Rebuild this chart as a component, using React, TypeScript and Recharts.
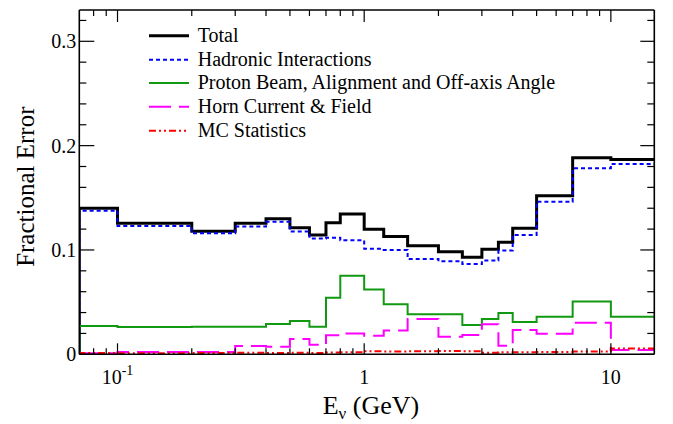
import React from 'react';
import { LineChart, Line, XAxis, YAxis } from 'recharts';

// ---------- data ----------
const binEdges = [0.07, 0.1, 0.2, 0.3, 0.4, 0.5, 0.6, 0.7, 0.8, 1.0, 1.2, 1.5, 2.0, 2.5, 3.0, 3.5, 4.0, 5.0, 7.0, 10, 15];

const totalErr = [0.140, 0.1256, 0.118, 0.1256, 0.130, 0.1214, 0.1144, 0.126, 0.1345, 0.1198, 0.1128, 0.104, 0.0984, 0.093, 0.1007, 0.1074, 0.1208, 0.152, 0.1885, 0.1866];
const hadronicErr = [0.1377, 0.123, 0.116, 0.1224, 0.127, 0.1176, 0.111, 0.1118, 0.1093, 0.1012, 0.100, 0.0914, 0.0892, 0.0866, 0.0898, 0.0994, 0.1144, 0.1463, 0.1783, 0.1825];
const protonErr = [0.0271, 0.0262, 0.0265, 0.0265, 0.029, 0.0319, 0.0265, 0.0543, 0.0752, 0.0621, 0.048, 0.0383, 0.0383, 0.0281, 0.0338, 0.0396, 0.031, 0.036, 0.0505, 0.036];
const hornErr = [0.001, 0.0022, 0.0022, 0.008, 0.0073, 0.0147, 0.0092, 0.0183, 0.020, 0.0178, 0.0227, 0.0338, 0.0169, 0.0185, 0.0288, 0.0083, 0.0233, 0.0198, 0.0303, 0.0041];
const mcStatErr = [0.0012, 0.0010, 0.0012, 0.0015, 0.0012, 0.0015, 0.0012, 0.0018, 0.0020, 0.0030, 0.0028, 0.0030, 0.0032, 0.0030, 0.0015, 0.0020, 0.0020, 0.0022, 0.0028, 0.0055];

const xTicks = [0.08, 0.09, 0.1, 0.2, 0.3, 0.4, 0.5, 0.6, 0.7, 0.8, 0.9, 1, 2, 3, 4, 5, 6, 7, 8, 9, 10];
const xMajorTicks = [0.1, 1, 10];
const xTickBase = ['10', '1', '10'];
const xTickSup = ['-1', '', ''];

const yTicks = [0, 0.02, 0.04, 0.06, 0.08, 0.1, 0.12, 0.14, 0.16, 0.18, 0.2, 0.22, 0.24, 0.26, 0.28, 0.3, 0.32];
const yMajorTicks = [0, 0.1, 0.2, 0.3];
const yTickLabels = ['0', '0.1', '0.2', '0.3'];

const seriesNames = ['Total', 'Hadronic Interactions', 'Proton Beam, Alignment and Off-axis Angle', 'Horn Current & Field', 'MC Statistics'];

// ---------- table ----------
const nBins = totalErr.length;
const rowAt = (x: number, i: number) => ({
  x,
  total: totalErr[i],
  hadronic: hadronicErr[i],
  proton: protonErr[i],
  horn: hornErr[i],
  mc: mcStatErr[i],
});
const data = [
  { x: binEdges[0], total: 0, hadronic: 0, proton: 0, horn: 0, mc: 0 },
  ...binEdges.map((e, i) => rowAt(e, Math.min(i, nBins - 1))),
];

// ---------- styles ----------
const FONT = '"Liberation Serif", "Times New Roman", serif';
const W = 665;
const H = 416;

const seriesStyle = [
  { key: 'total', color: '#000000', width: 3, dash: undefined as string | undefined },
  { key: 'hadronic', color: '#0000ff', width: 2, dash: '4 3' },
  { key: 'proton', color: '#119911', width: 2, dash: undefined },
  { key: 'horn', color: '#ff00ff', width: 2, dash: '22 8' },
  { key: 'mc', color: '#ff0000', width: 2, dash: '7 3 2 3 2 3' },
];

const near = (a: number, b: number) => Math.abs(a - b) < 1e-9;
const majorIndex = (v: number, arr: number[]) => arr.findIndex((m) => near(m, v));

const BottomTick = (props: any) => {
  const { x, y, payload } = props;
  const idx = majorIndex(payload.value, xMajorTicks);
  const major = idx >= 0;
  return (
    <g>
      <line x1={x} x2={x} y1={y} y2={y - (major ? 11 : 6)} stroke="#000" strokeWidth={1.2} />
      {major && (
        <text x={x} y={y + 30} textAnchor="middle" fontFamily={FONT} fontSize={20} fill="#000">
          {xTickBase[idx]}
          {xTickSup[idx] ? (
            <tspan dy={-9} fontSize={14}>
              {xTickSup[idx]}
            </tspan>
          ) : null}
        </text>
      )}
    </g>
  );
};

const TopTick = (props: any) => {
  const { x, y, payload } = props;
  const major = majorIndex(payload.value, xMajorTicks) >= 0;
  return <line x1={x} x2={x} y1={y} y2={y + (major ? 12 : 6)} stroke="#000" strokeWidth={1.2} />;
};

const LeftTick = (props: any) => {
  const { x, y, payload } = props;
  const idx = majorIndex(payload.value, yMajorTicks);
  const major = idx >= 0;
  return (
    <g>
      <line x1={x} x2={x + (major ? 15 : 7)} y1={y} y2={y} stroke="#000" strokeWidth={1.2} />
      {major && (
        <text x={x - 3} y={y + 7} textAnchor="end" fontFamily={FONT} fontSize={20} fill="#000">
          {yTickLabels[idx]}
        </text>
      )}
    </g>
  );
};

const RightTick = (props: any) => {
  const { x, y, payload } = props;
  const major = majorIndex(payload.value, yMajorTicks) >= 0;
  return <line x1={x} x2={x - (major ? 14 : 7)} y1={y} y2={y} stroke="#000" strokeWidth={1.2} />;
};

const legendBaselines = [33.7, 57.7, 81, 104.7, 128.7];

export default function App() {
  return (
    <div style={{ position: 'relative', width: W, height: H }}>
      <LineChart width={W} height={H} data={data} margin={{ top: 1, right: 17.7, bottom: 39.7, left: 0 }}>
        <XAxis
          dataKey="x"
          type="number"
          scale="log"
          domain={[0.07, 15]}
          allowDataOverflow
          ticks={xTicks}
          interval={0}
          tickSize={0}
          tickMargin={0}
          tickLine={false}
          tick={<BottomTick />}
          height={30}
          axisLine={{ stroke: '#000', strokeWidth: 1.6 }}
        />
        <XAxis
          xAxisId="top"
          orientation="top"
          dataKey="x"
          type="number"
          scale="log"
          domain={[0.07, 15]}
          allowDataOverflow
          ticks={xTicks}
          interval={0}
          tickSize={0}
          tickMargin={0}
          tickLine={false}
          tick={<TopTick />}
          height={1}
          axisLine={{ stroke: '#000', strokeWidth: 1.6 }}
        />
        <YAxis
          type="number"
          domain={[0, 0.33]}
          allowDataOverflow
          ticks={yTicks}
          interval={0}
          tickSize={0}
          tickMargin={0}
          tickLine={false}
          tick={<LeftTick />}
          width={71.3}
          axisLine={{ stroke: '#000', strokeWidth: 1.6 }}
        />
        <YAxis
          yAxisId="right"
          orientation="right"
          type="number"
          domain={[0, 0.33]}
          allowDataOverflow
          ticks={yTicks}
          interval={0}
          tickSize={0}
          tickMargin={0}
          tickLine={false}
          tick={<RightTick />}
          width={1}
          axisLine={{ stroke: '#000', strokeWidth: 1.6 }}
        />
        {seriesStyle.map((s) => (
          <Line
            key={s.key}
            dataKey={s.key}
            type="stepAfter"
            stroke={s.color}
            strokeWidth={s.width}
            strokeDasharray={s.dash}
            dot={false}
            activeDot={false}
            isAnimationActive={false}
          />
        ))}
      </LineChart>
      <svg
        width={W}
        height={H}
        style={{ position: 'absolute', left: 0, top: 0, pointerEvents: 'none' }}
      >
        {seriesStyle.map((s, i) => (
          <g key={s.key}>
            <line
              x1={141}
              x2={181}
              y1={legendBaselines[i] - 6}
              y2={legendBaselines[i] - 6}
              stroke={s.color}
              strokeWidth={s.width}
              strokeDasharray={s.dash}
            />
            <text x={189.7} y={legendBaselines[i]} fontFamily={FONT} fontSize={20} fill="#000">
              {seriesNames[i]}
            </text>
          </g>
        ))}
        <text x={314.7} y={406} fontFamily={FONT} fontSize={26} fill="#000">
          E
          <tspan dy={5} fontSize={17}>
            ν
          </tspan>
          <tspan dy={-5}> (GeV)</tspan>
        </text>
        <text
          transform="translate(25.5,178.7) rotate(-90)"
          textAnchor="middle"
          fontFamily={FONT}
          fontSize={25}
          fill="#000"
        >
          Fractional Error
        </text>
      </svg>
    </div>
  );
}
